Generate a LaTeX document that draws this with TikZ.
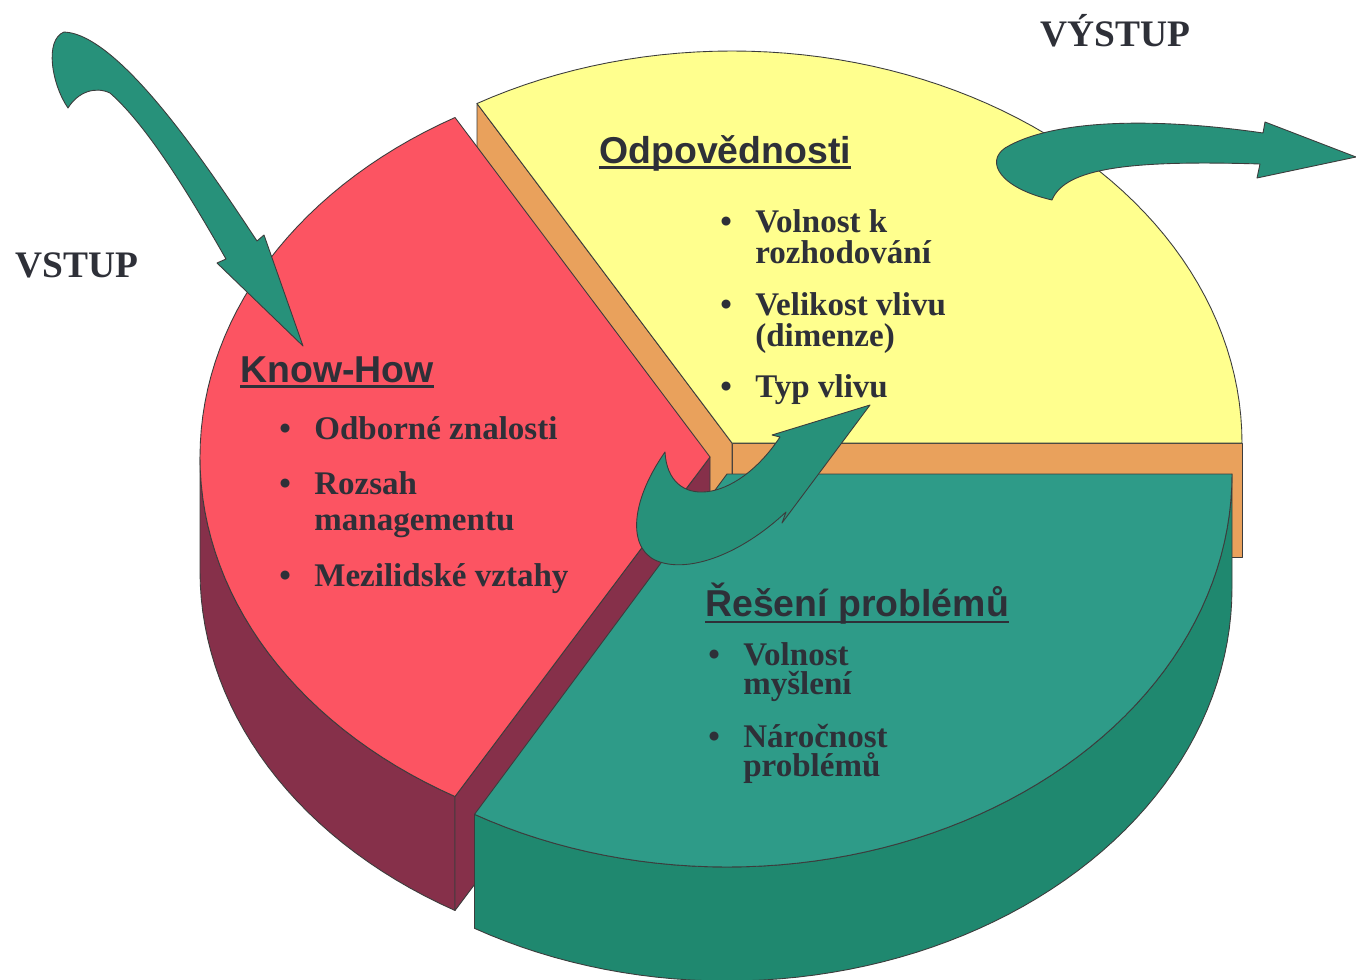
\documentclass[tikz,border=0pt]{standalone}
\usepackage{fontspec}
\setmainfont{Liberation Serif}
\setsansfont{Liberation Sans}
\definecolor{pieRed}{HTML}{FC5462}
\definecolor{pieMaroon}{HTML}{86304A}
\definecolor{pieYellow}{HTML}{FFFF8E}
\definecolor{pieOrange}{HTML}{E9A15C}
\definecolor{pieGreen}{HTML}{2E9B88}
\definecolor{pieGreenSide}{HTML}{1F886F}
\definecolor{arrowTeal}{HTML}{27917A}
\definecolor{pieInk}{HTML}{2E3038}
\definecolor{pieLine}{HTML}{3C3C3C}
\newcommand{\blt}{\makebox[1.06em][l]{\textbullet}}
\newcommand{\twoline}[2]{\vtop{\hbox{#1}\hbox{#2}}}
\tikzset{
  pieFace/.style={draw=pieLine,line width=0.5pt,line join=round},
  flowArrow/.style={fill=arrowTeal,draw=pieLine,line width=0.5pt,line join=round},
  headRule/.style={draw=pieInk,line width=1.6pt},
  pieHead/.style={font=\sffamily\bfseries\fontsize{21.3}{25}\selectfont,
    text=pieInk,anchor=base west,inner sep=0pt},
  pieItem/.style={font=\rmfamily\bfseries\fontsize{18.8}{18}\selectfont,
    text=pieInk,anchor=base west,inner sep=0pt},
  ioText/.style={font=\rmfamily\bfseries\fontsize{21.3}{25}\selectfont,
    text=pieInk,anchor=base west,inner sep=0pt}
}
\begin{document}
\begin{tikzpicture}[x=0.02cm,y=-0.02cm]
\path[use as bounding box,fill=white] (0,0) rectangle (1356,980);
% Odpovednosti slice (back)
\filldraw[pieFace,fill=pieOrange] (732,443) -- (1242,443) -- (1242,557) -- (732,557) -- cycle;
\filldraw[pieFace,fill=pieOrange] (732,443) -- (477,103.5) -- (477,217.5) -- (732,557) -- cycle;
\filldraw[pieFace,fill=pieYellow] (732,443) --
  plot[domain=240:360,samples=61] ({732+510*cos(\x)},{443+392*sin(\x)}) -- cycle;
% Know-How slice
\filldraw[pieFace,fill=pieMaroon]
  plot[domain=120:180,samples=31] ({710+510*cos(\x)},{457+392*sin(\x)}) --
  plot[domain=180:120,samples=31] ({710+510*cos(\x)},{571+392*sin(\x)}) -- cycle;
\filldraw[pieFace,fill=pieMaroon] (710,457) -- (455,796.5) -- (455,910.5) -- (710,571) -- cycle;
\filldraw[pieFace,fill=pieRed] (710,457) --
  plot[domain=120:240,samples=61] ({710+510*cos(\x)},{457+392*sin(\x)}) -- cycle;
% Reseni problemu slice (front)
\filldraw[pieFace,fill=pieGreenSide]
  plot[domain=0:120,samples=61] ({727+505*cos(\x)},{474+393*sin(\x)}) --
  plot[domain=120:0,samples=61] ({727+505*cos(\x)},{588+393*sin(\x)}) -- cycle;
\filldraw[pieFace,fill=pieGreen] (727,474) --
  plot[domain=0:120,samples=61] ({727+505*cos(\x)},{474+393*sin(\x)}) -- cycle;
% arrows
\filldraw[flowArrow] (64,32) .. controls (120,34) and (210,170) .. (257,241) -- (264,235)
  -- (303,346) -- (217,263) -- (226,259) .. controls (195,205) and (150,128) .. (110,93)
  .. controls (95,86) and (78,92) .. (68,108)
  .. controls (52,85) and (44,40) .. (64,32) -- cycle;
\filldraw[flowArrow] (665,452) .. controls (668,510) and (735,505) .. (780,437) -- (772,435)
  -- (870,405) -- (782,523) -- (786,512) .. controls (740,555) and (690,572) .. (660,562)
  .. controls (628,552) and (628,505) .. (665,452) -- cycle;
\filldraw[flowArrow] (1052,200) .. controls (1065,168) and (1130,160) .. (1260,164)
  -- (1257,178) -- (1356,157) -- (1265,122) -- (1263,133)
  .. controls (1160,118) and (1055,118) .. (1005,148)
  .. controls (985,162) and (1000,188) .. (1052,200) -- cycle;
% labels
\node[ioText] (vstup) at (15,277) {VSTUP};
\node[ioText] (vystup) at (1040,47) {VÝSTUP};
\node[pieHead] (knowhow) at (240,382) {Know-How};
\node[pieItem] (kh1) at (279,439) {\blt Odborné znalosti};
\node[pieItem,font=\rmfamily\bfseries\fontsize{18.8}{20.5}\selectfont] (kh2) at (279,494)
  {\blt\twoline{Rozsah}{managementu}};
\node[pieItem] (kh3) at (279,586) {\blt Mezilidské vztahy};
\node[pieHead] (odp) at (599,163) {Odpovědnosti};
\node[pieItem] (odp1) at (720,232) {\blt\twoline{Volnost k}{rozhodování}};
\node[pieItem] (odp2) at (720,315) {\blt\twoline{Velikost vlivu}{(dimenze)}};
\node[pieItem] (odp3) at (720,397) {\blt Typ vlivu};
\node[pieHead] (res) at (705,616) {Řešení problémů};
\node[pieItem,font=\rmfamily\bfseries\fontsize{18.8}{17}\selectfont] (res1) at (708,665)
  {\blt\twoline{Volnost}{myšlení}};
\node[pieItem,font=\rmfamily\bfseries\fontsize{18.8}{17}\selectfont] (res2) at (708,747)
  {\blt\twoline{Náročnost}{problémů}};
% heading underlines
\foreach \h/\d in {knowhow/2.6pt,odp/2.4pt,res/3.4pt}
  \draw[headRule] ([yshift=-\d]\h.base west) -- ([yshift=-\d]\h.base east);
\end{tikzpicture}
\end{document}
